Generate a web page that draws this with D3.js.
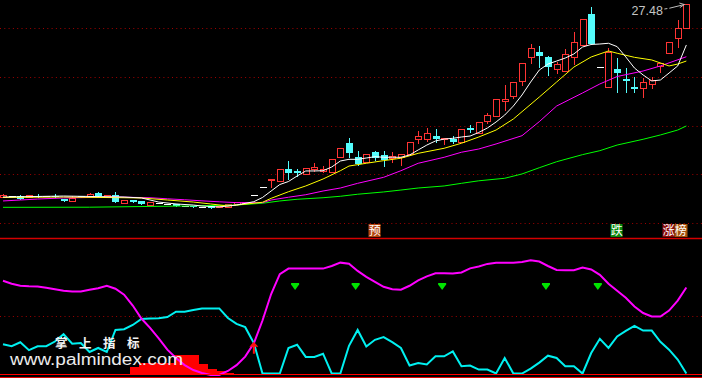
<!DOCTYPE html>
<html>

<head>
    <meta charset="utf-8">
    <title>K-line with indicator</title>
    <script src="https://d3js.org/d3.v7.min.js"></script>
    <style>
        body { margin: 0; background: #000; }
        svg { display: block; }
    </style>
</head>

<body>
    <script>
        // candle prices, one entry per trading day
        const opens = [11.44, 11.48, 11.48, 11.36, 11.48, 11.48, 11.48, 11.23, 11.07, 11.48,
            11.40, 11.73, 11.40, 11.54, 10.90, 11.15, 11.07, 10.73, 10.94, 10.82,
            10.82, 10.69, 10.65, 10.57, 10.65, 10.53, 10.57, 10.82, 10.86, 11.54,
            12.21, 12.82, 12.76, 13.71, 13.57, 13.32, 13.73, 13.59, 13.51, 14.71,
            15.93, 14.71, 14.34, 15.18, 14.90, 14.63, 14.76, 14.98, 16.23, 16.21,
            16.51, 16.21, 16.23, 15.96, 17.15, 16.71, 17.76, 18.15, 19.44, 19.84,
            21.09, 23.09, 23.46, 23.04, 22.07, 21.93, 23.04, 24.07, 26.65, 22.21,
            20.54, 22.07, 21.23, 20.59, 20.46, 20.84, 22.32, 23.38, 24.63, 25.46];
        const highs = [11.65, 11.48, 11.57, 11.57, 11.65, 11.48, 11.65, 11.23, 11.48, 11.48,
            11.73, 11.82, 11.57, 11.82, 11.15, 11.15, 11.07, 10.98, 10.94, 10.82,
            10.82, 10.69, 10.65, 10.57, 10.65, 10.65, 10.82, 10.98, 10.98, 11.54,
            12.21, 12.90, 13.71, 14.40, 13.71, 13.79, 14.26, 13.98, 14.54, 15.46,
            16.34, 15.23, 14.98, 15.23, 15.23, 15.18, 14.98, 15.98, 16.93, 17.13,
            17.07, 16.29, 16.48, 17.04, 17.40, 17.63, 18.38, 19.54, 20.73, 20.98,
            22.54, 24.15, 23.98, 23.15, 22.68, 23.73, 25.18, 26.21, 27.26, 22.21,
            23.84, 22.96, 22.13, 21.43, 21.29, 21.38, 22.59, 24.29, 26.15, 27.48];
        const lows = [11.40, 11.48, 11.23, 11.36, 11.40, 11.48, 11.40, 11.04, 11.07, 11.40,
            11.40, 11.48, 11.40, 10.96, 10.90, 10.98, 10.82, 10.73, 10.94, 10.82,
            10.65, 10.69, 10.57, 10.57, 10.48, 10.53, 10.57, 10.82, 10.86, 11.54,
            12.21, 12.23, 12.76, 12.93, 13.15, 13.32, 13.57, 13.51, 13.51, 14.71,
            14.71, 14.07, 14.34, 14.48, 14.01, 14.34, 14.07, 14.98, 15.93, 16.09,
            16.01, 15.79, 15.88, 15.96, 16.79, 16.71, 17.54, 18.15, 18.65, 19.65,
            20.73, 22.54, 22.21, 21.57, 21.71, 21.93, 22.48, 24.07, 24.15, 22.21,
            20.54, 20.18, 20.18, 20.18, 19.76, 20.46, 21.84, 23.38, 23.93, 25.46];
        const closes = [11.53, 11.48, 11.23, 11.57, 11.40, 11.48, 11.40, 11.09, 11.32, 11.40,
            11.65, 11.48, 11.57, 11.01, 11.15, 10.98, 10.82, 10.98, 10.94, 10.82,
            10.65, 10.69, 10.57, 10.57, 10.48, 10.65, 10.82, 10.98, 10.98, 11.54,
            12.21, 12.90, 13.71, 13.43, 13.43, 13.79, 13.93, 13.73, 14.54, 15.46,
            15.09, 14.13, 14.98, 14.63, 14.48, 14.84, 14.98, 15.98, 16.51, 16.71,
            16.23, 16.29, 15.96, 17.04, 16.96, 17.63, 18.21, 19.54, 19.53, 20.96,
            22.54, 23.79, 23.18, 22.21, 22.48, 23.32, 24.34, 26.21, 24.15, 22.21,
            23.51, 21.76, 21.07, 20.43, 21.01, 21.13, 22.59, 24.29, 25.46, 27.48];

        // moving averages: [day, price]
        const ma5 = [[0, 11.40], [7, 11.48], [14, 11.40], [16, 11.32], [18, 10.98], [20, 10.82], [22, 10.73],
            [23, 10.65], [25, 10.57], [27, 10.73], [29, 11.01], [30, 11.36], [31, 11.90], [32, 12.44],
            [33, 12.69], [34, 13.15], [35, 13.57], [36, 13.57], [37, 13.59], [38, 13.90], [39, 14.40],
            [40, 14.54], [41, 14.54], [42, 14.65], [43, 14.76], [44, 14.71], [45, 14.71], [46, 14.71],
            [47, 14.90], [48, 15.32], [49, 15.73], [50, 16.07], [51, 16.23], [52, 16.29], [53, 16.40],
            [54, 16.48], [55, 16.78], [56, 17.15], [57, 17.65], [58, 18.23], [59, 18.98], [60, 19.90],
            [61, 20.98], [62, 21.98], [63, 22.48], [64, 22.73], [65, 22.98], [66, 23.32], [67, 23.90],
            [68, 24.11], [69, 24.15], [70, 24.21], [71, 23.93], [72, 23.07], [73, 22.15], [74, 21.57],
            [75, 21.07], [76, 21.15], [77, 21.73], [78, 22.32], [79, 24.07]];
        const ma10 = [[0, 11.36], [7, 11.40], [16, 11.32], [19, 11.15], [22, 10.98], [24, 10.82], [26, 10.65],
            [27, 10.73], [30, 10.96], [31, 11.29], [33, 11.84], [35, 12.32], [37, 12.90], [39, 13.59],
            [40, 13.98], [42, 14.21], [44, 14.43], [46, 14.63], [48, 15.04], [51, 15.46], [53, 15.88],
            [55, 16.40], [57, 16.98], [59, 17.90], [62, 19.73], [64, 20.98], [66, 22.23], [68, 23.07],
            [70, 23.57], [71, 23.38], [73, 23.04], [75, 22.82], [77, 22.32], [78, 22.48], [79, 22.73]];
        const ma20 = [[0, 11.07], [2, 11.15], [4, 11.23], [7, 11.32], [13, 11.40], [17, 11.34], [19, 11.25],
            [21, 11.17], [23, 11.08], [25, 11.00], [27, 10.93], [30, 10.93], [31, 11.15], [33, 11.38],
            [35, 11.59], [37, 11.90], [39, 12.15], [41, 12.54], [44, 13.04], [46, 13.59], [48, 14.21],
            [51, 14.71], [53, 15.13], [55, 15.40], [57, 15.82], [60, 16.51], [62, 17.68], [64, 18.98],
            [67, 20.07], [69, 20.82], [71, 21.44], [74, 21.90], [76, 22.32], [79, 23.09]];
        const ma60 = [[0, 10.54], [10, 10.55], [21, 10.65], [27, 10.73], [30, 10.88], [32, 11.07], [34, 11.21],
            [37, 11.34], [39, 11.46], [41, 11.63], [44, 11.82], [46, 11.98], [48, 12.15], [51, 12.32],
            [53, 12.54], [55, 12.75], [58, 12.96], [60, 13.32], [62, 13.84], [64, 14.34], [67, 14.93],
            [69, 15.26], [71, 15.73], [74, 16.21], [76, 16.57], [78, 16.98], [79, 17.32]];

        const gridPrices = [25.48, 21.40, 17.35, 13.30, 9.23];

        // lower indicator panel (0-100)
        const magentaLine = [80.6, 78.0, 76.3, 75.9, 75.7, 74.6, 73.3, 72.0, 71.4, 71.4,
            72.8, 74.1, 76.3, 73.7, 68.5, 59.1, 47.8, 39.7, 30.6, 20.7,
            13.4, 7.3, 3.0, 0.4, -1.3, -1.3, 2.2, 7.3, 14.7, 26.3,
            46.1, 69.1, 86.4, 91.2, 91.2, 91.2, 91.2, 91.2, 93.5, 96.4,
            95.5, 89.2, 84.1, 79.7, 75.4, 73.3, 72.8, 76.3, 81.0, 84.5,
            87.2, 87.1, 86.9, 87.9, 91.4, 93.1, 95.3, 96.4, 96.4, 96.4,
            97.0, 98.4, 97.4, 93.5, 90.1, 89.8, 89.8, 92.1, 90.5, 85.8,
            78.0, 72.0, 65.9, 58.2, 52.6, 49.6, 49.6, 54.7, 63.4, 74.8];
        const cyanLine = [25.4, 23.7, 27.2, 20.3, 23.7, 23.7, 27.8, 34.2, 25.9, 26.5,
            18.7, 22.2, 18.7, 37.9, 38.5, 42.2, 47.4, 47.8, 48.0, 49.1,
            53.7, 53.7, 55.2, 56.6, 56.6, 56.6, 48.3, 43.1, 40.3, 26.5,
            0, 0, 0, 22.2, 25.0, 14.4, 14.4, 17.2, 0, 0,
            24.1, 37.9, 23.5, 29.3, 31.6, 27.2, 22.2, 6.9, 9.2, 7.8,
            14.9, 14.9, 19.2, 6.3, 6.9, 3.4, 3.4, 0, 13.5, 0,
            0, 4.3, 9.5, 15.5, 13.5, 6.3, 6.3, 0, 17.8, 30.2,
            22.2, 32.2, 37.1, 41.4, 37.3, 37.3, 27.6, 20.7, 12.1, 0];
        const redBars = [[15, 5.9], [16, 9.3], [17, 9.3], [18, 9.3], [19, 9.3], [20, 15.9],
            [21, 15.9], [22, 15.9], [23, 8.2], [24, 3.9], [25, 2.2], [26, 0.7]];
        const sellDays = [34, 41, 51, 63, 69];
        const buyDays = [29];

        // signal labels under the candles
        const labelDays = [43, 71, 77];
        const labelTexts = ['预', '跌', '涨榜'];
        const labelBg = { '预': '#b4460e', '跌': '#0c8a0c', '涨': '#8c0a0a', '榜': '#a6520c' };

        const msm = { width: 702, height: 378 };

        let svg = d3.select('body')
            .append('svg')
            .attr('width', msm.width)
            .attr('height', msm.height)
            .style('background', '#000');

        let x = d3.scaleLinear().domain([0, 79]).range([3, 686.35]);
        let y = d3.scaleLinear().domain([7.9, 27.8]).range([239, 0.2]);
        let yi = d3.scaleLinear().domain([0, 100]).range([373.5, 258.5]);

        const px = v => Math.round(v) + 0.5;

        // dotted grid
        svg.append('g')
            .selectAll('line')
            .data(gridPrices)
            .enter()
            .append('line')
            .attr('x1', 0).attr('x2', msm.width)
            .attr('y1', d => px(y(d))).attr('y2', d => px(y(d)))
            .attr('stroke', '#a00000')
            .attr('stroke-dasharray', '1,3.3');

        svg.append('line')
            .attr('x1', 0).attr('x2', msm.width)
            .attr('y1', px(yi(50))).attr('y2', px(yi(50)))
            .attr('stroke', '#a00000')
            .attr('stroke-dasharray', '1,3.3');

        // panel separator
        svg.append('line')
            .attr('x1', 0).attr('x2', msm.width)
            .attr('y1', 238.5).attr('y2', 238.5)
            .attr('stroke', '#d40000')
            .attr('stroke-width', 1.5);

        // candles
        let candles = d3.range(opens.length).map(i => ({
            i: i, o: opens[i], h: highs[i], l: lows[i], c: closes[i]
        }));
        const colorOf = d => d.c > d.o ? '#ff3434' : (d.c < d.o ? '#54fcfc' : '#ffffff');

        let cg = svg.append('g').attr('shape-rendering', 'crispEdges');

        cg.selectAll('line.wick')
            .data(candles.filter(d => d.h > d.l))
            .enter()
            .append('line')
            .attr('class', 'wick')
            .attr('x1', d => px(x(d.i))).attr('x2', d => px(x(d.i)))
            .attr('y1', d => Math.round(y(d.h))).attr('y2', d => Math.round(y(d.l)) + 1)
            .attr('stroke', colorOf);

        // up candles: hollow red
        cg.selectAll('rect.up')
            .data(candles.filter(d => d.c > d.o))
            .enter()
            .append('rect')
            .attr('class', 'up')
            .attr('x', d => px(x(d.i)) - 3)
            .attr('width', 6)
            .attr('y', d => px(y(d.c)))
            .attr('height', d => Math.max(1, Math.round(y(d.o)) - Math.round(y(d.c))))
            .attr('fill', '#000')
            .attr('stroke', '#ff3434');

        // down candles: filled cyan
        cg.selectAll('rect.down')
            .data(candles.filter(d => d.c < d.o))
            .enter()
            .append('rect')
            .attr('class', 'down')
            .attr('x', d => Math.round(x(d.i)) - 3)
            .attr('width', 7)
            .attr('y', d => Math.round(y(d.o)))
            .attr('height', d => Math.max(1, Math.round(y(d.c)) - Math.round(y(d.o))))
            .attr('fill', '#54fcfc');

        // flat candles: white bar
        cg.selectAll('line.flat')
            .data(candles.filter(d => d.c === d.o))
            .enter()
            .append('line')
            .attr('class', 'flat')
            .attr('x1', d => Math.round(x(d.i)) - 3).attr('x2', d => Math.round(x(d.i)) + 4)
            .attr('y1', d => px(y(d.c))).attr('y2', d => px(y(d.c)))
            .attr('stroke', '#ffffff');

        // moving averages
        let maLine = d3.line()
            .x(function (d) { return x(d[0]); })
            .y(function (d) { return y(d[1]); });

        [[ma60, '#00ff00'], [ma20, '#ff00ff'], [ma10, '#ffff00'], [ma5, '#ffffff']].forEach(function (m) {
            svg.append('path')
                .attr('d', maLine(m[0]))
                .attr('fill', 'none')
                .attr('stroke', m[1])
                .attr('stroke-width', 1);
        });

        // highest price marker
        let lastBar = candles[candles.length - 1];
        svg.append('text')
            .attr('x', x(lastBar.i) - 23.5)
            .attr('y', 14.5)
            .attr('text-anchor', 'end')
            .attr('fill', '#c4c4c4')
            .attr('font-family', 'Liberation Sans, Arial, sans-serif')
            .attr('font-size', '12.5px')
            .text(lastBar.h.toFixed(2));
        let tipX = x(lastBar.i) - 2, tipY = y(lastBar.h) + 0.5;
        svg.append('path')
            .attr('d', 'M' + (tipX - 20) + ',' + (tipY + 4.5) + 'L' + (tipX - 17) + ',' + (tipY + 4) +
                'M' + (tipX - 15) + ',' + (tipY + 3.7) + 'L' + tipX + ',' + tipY +
                'M' + (tipX - 5) + ',' + (tipY - 1.5) + 'L' + tipX + ',' + tipY + 'L' + (tipX - 4.5) + ',' + (tipY + 3))
            .attr('fill', 'none')
            .attr('stroke', '#bdbdbd')
            .attr('stroke-width', 1);

        // signal labels
        let labelChars = [];
        labelDays.forEach(function (day, k) {
            Array.from(labelTexts[k]).forEach(function (ch, j) {
                labelChars.push({ day: day, ch: ch, j: j });
            });
        });
        let lg = svg.append('g')
            .selectAll('g')
            .data(labelChars)
            .enter()
            .append('g')
            .attr('transform', d => 'translate(' + (Math.round(x(d.day)) - 6.5 + d.j * 12) + ',224)');
        lg.append('rect')
            .attr('width', d => d.j > 0 ? 13 : 12)
            .attr('height', 13)
            .attr('fill', d => labelBg[d.ch]);
        lg.append('text')
            .attr('x', 6.3)
            .attr('y', 11)
            .attr('text-anchor', 'middle')
            .attr('fill', '#ffffff')
            .attr('font-family', 'Noto Sans CJK SC, sans-serif')
            .attr('font-size', '12px')
            .text(d => d.ch);

        // lower panel: red histogram
        svg.append('g')
            .attr('shape-rendering', 'crispEdges')
            .selectAll('rect')
            .data(redBars)
            .enter()
            .append('rect')
            .attr('x', d => x(d[0]) - 2.5)
            .attr('width', 8.66)
            .attr('y', d => yi(d[1]))
            .attr('height', d => yi(0) - yi(d[1]) + 0.5)
            .attr('fill', '#ff0000');

        // indicator lines
        let indLine = d3.line()
            .x(function (d, i) { return x(i); })
            .y(function (d) { return yi(d); });

        svg.append('path')
            .attr('d', indLine(cyanLine))
            .attr('fill', 'none')
            .attr('stroke', '#00f0f0')
            .attr('stroke-width', 2);

        svg.append('path')
            .attr('d', indLine(magentaLine))
            .attr('fill', 'none')
            .attr('stroke', '#ff00ff')
            .attr('stroke-width', 2);

        // bottom lines
        svg.append('line')
            .attr('x1', 0).attr('x2', msm.width)
            .attr('y1', 374.5).attr('y2', 374.5)
            .attr('stroke', '#ff0000');
        svg.append('line')
            .attr('x1', 0).attr('x2', msm.width)
            .attr('y1', 377.5).attr('y2', 377.5)
            .attr('stroke', '#e00000');

        // sell marks: green down triangles
        svg.append('g')
            .selectAll('path')
            .data(sellDays)
            .enter()
            .append('path')
            .attr('d', d => {
                let cx = x(d) - 2;
                return 'M' + (cx - 4) + ',283 L' + (cx + 4) + ',283 L' + (cx + 4) + ',284.5 L' + cx + ',290 L' +
                    (cx - 4) + ',284.5 Z';
            })
            .attr('fill', '#00e400');

        // buy mark: red up arrow
        svg.append('g')
            .selectAll('path')
            .data(buyDays)
            .enter()
            .append('path')
            .attr('d', d => {
                let cx = x(d), ty = yi(magentaLine[d]) - 1.5;
                return 'M' + cx + ',' + ty + ' L' + (cx + 4.5) + ',' + (ty + 5) + ' L' + (cx + 1) + ',' + (ty + 5) +
                    ' L' + (cx + 1) + ',' + (ty + 12) + ' L' + (cx - 1) + ',' + (ty + 12) + ' L' + (cx - 1) + ',' + (ty + 5) +
                    ' L' + (cx - 4.5) + ',' + (ty + 5) + ' Z';
            })
            .attr('fill', '#ff1010');

        // watermark
        svg.append('text')
            .attr('x', 55)
            .attr('y', 347.5)
            .attr('fill', '#f2f2f2')
            .attr('font-family', 'Noto Sans CJK SC, sans-serif')
            .attr('font-weight', 'bold')
            .attr('font-size', '12.5px')
            .attr('letter-spacing', '11.5px')
            .text('掌上指标');
        svg.append('text')
            .attr('x', 10)
            .attr('y', 365)
            .attr('fill', '#ececec')
            .attr('font-family', 'Liberation Sans, Arial, sans-serif')
            .attr('font-size', '16px')
            .attr('textLength', 173)
            .attr('lengthAdjust', 'spacingAndGlyphs')
            .text('www.palmindex.com');
    </script>
</body>

</html>
